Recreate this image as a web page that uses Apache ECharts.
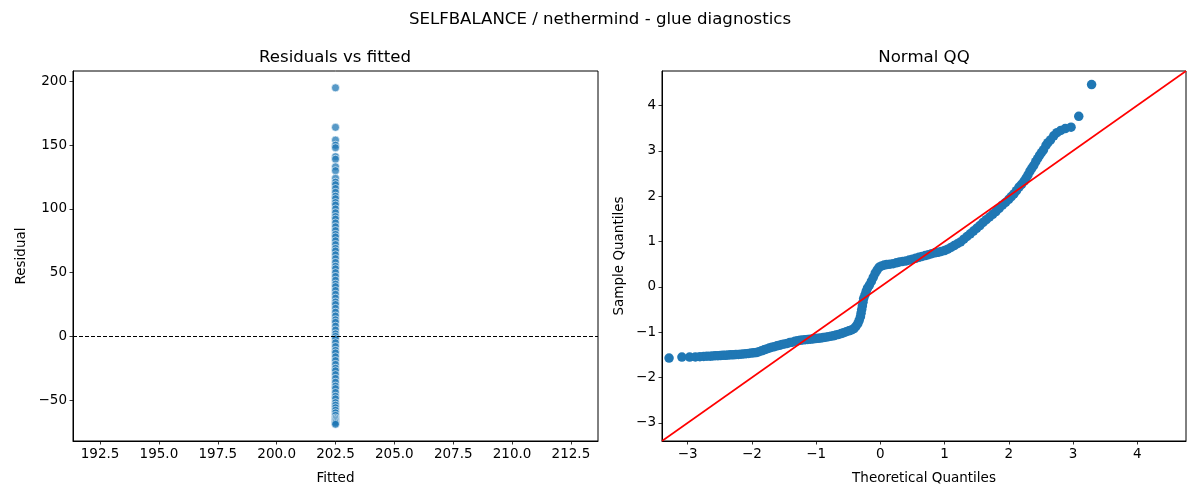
<!DOCTYPE html>
<html>
<head>
<meta charset="utf-8">
<script src="https://cdn.jsdelivr.net/npm/echarts@6/dist/echarts.min.js"></script>
<style>
  html, body { margin: 0; padding: 0; background: #fff; }
  #main { width: 1200px; height: 500px; }
</style>
</head>
<body>
<div id="main"></div>
<script>
// left panel: every residual sits at the same fitted value
const fittedValue = 202.5;
const residuals = [195, 164, 154, 150, 148, 141, 139, 133, 130, 124, 121, 119, 116, 113, 110, 108,
  105, 103, 100, 97, 94, 92, 89, 86, 83, 80, 78, 75, 72, 69, 67, 64, 61, 58, 55, 53, 50, 47, 44,
  41, 39, 36, 33, 30, 27, 25, 22, 19, 16, 13, 11, 8, 5, 2, 0, -2, -5, -8, -11, -13, -16, -19,
  -22, -25, -27, -30, -33, -36, -39, -41, -44, -47, -49, -52, -54, -56, -58, -60, -62, -64,
  -65, -66, -67, -68, -69];
const fittedTicks = [192.5, 195, 197.5, 200, 202.5, 205, 207.5, 210, 212.5];
const residualTicks = [-50, 0, 50, 100, 150, 200];

// right panel: normal QQ
const theoretical = [-3.29, -3.09, -2.97, -2.88, -2.81, -2.75, -2.70, -2.65, -2.61, -2.57, -2.53,
  -2.49, -2.45, -2.41, -2.37, -2.33, -2.29, -2.25, -2.21, -2.17, -2.13, -2.09, -2.05, -2.01,
  -1.97, -1.93, -1.89, -1.85, -1.81, -1.77, -1.73, -1.69, -1.65, -1.61, -1.57, -1.53, -1.49,
  -1.45, -1.41, -1.37, -1.33, -1.29, -1.25, -1.21, -1.17, -1.13, -1.09, -1.05, -1.01, -0.97,
  -0.93, -0.89, -0.85, -0.81, -0.77, -0.73, -0.69, -0.65, -0.61, -0.57, -0.53, -0.49, -0.45,
  -0.41, -0.38, -0.35, -0.33, -0.31, -0.30, -0.29, -0.28, -0.27, -0.26, -0.24, -0.22, -0.20,
  -0.17, -0.14, -0.11, -0.08, -0.05, -0.02, 0.02, 0.06, 0.10, 0.15, 0.20, 0.25, 0.30, 0.35,
  0.40, 0.45, 0.50, 0.55, 0.60, 0.65, 0.70, 0.75, 0.80, 0.85, 0.90, 0.95, 1.00, 1.05, 1.10,
  1.15, 1.20, 1.25, 1.30, 1.35, 1.40, 1.45, 1.50, 1.55, 1.60, 1.65, 1.70, 1.75, 1.80, 1.85,
  1.90, 1.95, 2.00, 2.04, 2.08, 2.12, 2.16, 2.20, 2.24, 2.27, 2.30, 2.33, 2.36, 2.39, 2.42,
  2.45, 2.48, 2.51, 2.54, 2.58, 2.61, 2.65, 2.70, 2.75, 2.81, 2.88, 2.97, 3.09, 3.29];
const sample = [-1.57, -1.55, -1.55, -1.545, -1.54, -1.535, -1.53, -1.53, -1.525, -1.52, -1.52,
  -1.515, -1.51, -1.51, -1.505, -1.50, -1.50, -1.495, -1.49, -1.485, -1.48, -1.475, -1.47, -1.46,
  -1.455, -1.45, -1.43, -1.41, -1.39, -1.37, -1.35, -1.33, -1.32, -1.30, -1.29, -1.27, -1.26,
  -1.25, -1.23, -1.22, -1.20, -1.19, -1.18, -1.17, -1.165, -1.16, -1.155, -1.15, -1.14, -1.135,
  -1.13, -1.12, -1.11, -1.10, -1.09, -1.08, -1.06, -1.05, -1.03, -1.01, -0.99, -0.97, -0.95,
  -0.92, -0.87, -0.81, -0.74, -0.66, -0.58, -0.50, -0.42, -0.34, -0.26, -0.18, -0.10, -0.03,
  0.04, 0.12, 0.21, 0.30, 0.37, 0.43, 0.46, 0.48, 0.49, 0.50, 0.51, 0.53, 0.55, 0.56,
  0.57, 0.59, 0.61, 0.63, 0.65, 0.67, 0.69, 0.71, 0.73, 0.75, 0.76, 0.78, 0.80, 0.83, 0.87,
  0.91, 0.95, 0.99, 1.05, 1.11, 1.17, 1.23, 1.29, 1.35, 1.42, 1.48, 1.54, 1.60, 1.66, 1.73,
  1.80, 1.86, 1.93, 1.99, 2.05, 2.12, 2.20, 2.26, 2.33, 2.40, 2.47, 2.55, 2.62, 2.68, 2.76,
  2.83, 2.90, 2.96, 3.02, 3.12, 3.18, 3.24, 3.33, 3.40, 3.45, 3.49, 3.52, 3.76, 4.46];
const qqTicks = [-3, -2, -1, 0, 1, 2, 3, 4];
const qqLimits = [-3.40, 4.76];

const chart = echarts.init(document.getElementById('main'));

const font = 'DejaVu Sans';
const minus = v => String(v).replace('-', '\u2212');

function axisBase(ticks, fmt) {
  return {
    axisLine: { show: true, onZero: false, lineStyle: { color: '#000', width: 1 } },
    axisTick: { show: true, length: 3.5, customValues: ticks, lineStyle: { color: '#000', width: 0.8 } },
    axisLabel: { customValues: ticks, color: '#000', fontFamily: font, fontSize: 13.5, margin: 6, formatter: fmt },
    splitLine: { show: false },
    nameTextStyle: { color: '#000', fontFamily: font, fontSize: 13.5 }
  };
}

const titleStyle = { fontFamily: font, fontSize: 16.6, fontWeight: 'normal', color: '#000' };

const option = {
  animation: false,
  backgroundColor: '#fff',
  title: [
    { text: 'SELFBALANCE / nethermind - glue diagnostics', left: 600, top: 11, textAlign: 'center',
      padding: 0, textStyle: titleStyle },
    { text: 'Residuals vs fitted', left: 335, top: 49, textAlign: 'center', padding: 0, textStyle: titleStyle },
    { text: 'Normal QQ', left: 924, top: 49, textAlign: 'center', padding: 0, textStyle: titleStyle }
  ],
  grid: [
    { left: 73, top: 71, width: 525, height: 370, show: true, borderColor: '#000', borderWidth: 1 },
    { left: 662, top: 71, width: 524, height: 370, show: true, borderColor: '#000', borderWidth: 1 }
  ],
  xAxis: [
    Object.assign(axisBase(fittedTicks, v => v.toFixed(1)), {
      type: 'value', gridIndex: 0, min: 191.35, max: 213.65,
      name: 'Fitted', nameLocation: 'middle', nameGap: 30
    }),
    Object.assign(axisBase(qqTicks, minus), {
      type: 'value', gridIndex: 1, min: qqLimits[0], max: qqLimits[1],
      name: 'Theoretical Quantiles', nameLocation: 'middle', nameGap: 30
    })
  ],
  yAxis: [
    Object.assign(axisBase(residualTicks, minus), {
      type: 'value', gridIndex: 0, min: -82.1, max: 208.2,
      name: 'Residual', nameLocation: 'middle', nameGap: 45
    }),
    Object.assign(axisBase(qqTicks, minus), {
      type: 'value', gridIndex: 1, min: qqLimits[0], max: qqLimits[1],
      name: 'Sample Quantiles', nameLocation: 'middle', nameGap: 36
    })
  ],
  series: [
    {
      type: 'scatter', xAxisIndex: 0, yAxisIndex: 0,
      data: residuals.map(r => [fittedValue, r]),
      symbolSize: 8,
      itemStyle: { color: '#1f77b4', opacity: 0.75, borderColor: '#fff', borderWidth: 0.8 },
      markLine: {
        silent: true, symbol: 'none', label: { show: false },
        lineStyle: { color: '#000', width: 1, type: [4, 2] },
        data: [{ yAxis: 0 }]
      }
    },
    {
      type: 'scatter', xAxisIndex: 1, yAxisIndex: 1,
      data: theoretical.map((t, i) => [t, sample[i]]),
      symbolSize: 9.5,
      itemStyle: { color: '#1f77b4', opacity: 1 }
    },
    {
      type: 'line', xAxisIndex: 1, yAxisIndex: 1,
      data: qqLimits.map(v => [v, v]),
      symbol: 'none',
      lineStyle: { color: '#ff0000', width: 1.6 },
      z: 3
    }
  ]
};

chart.setOption(option);
</script>
</body>
</html>
